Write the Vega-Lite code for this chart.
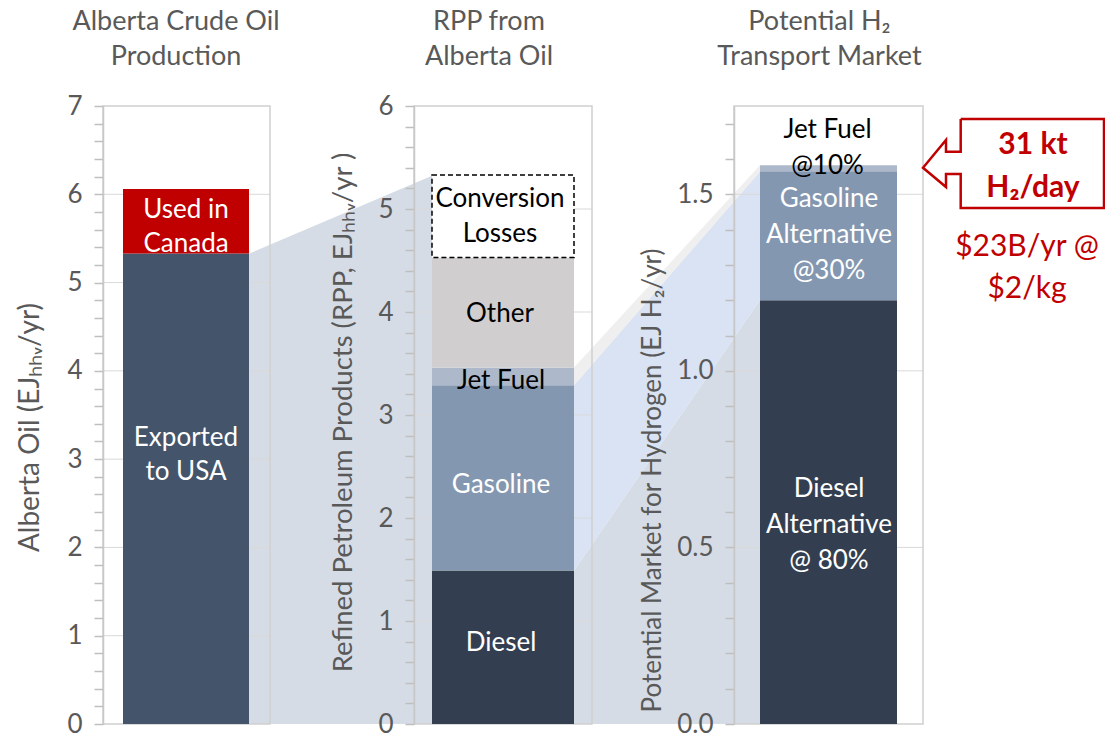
{
  "$schema": "https://vega.github.io/schema/vega-lite/v6.json",
  "width": 820,
  "height": 618,
  "autosize": {"type": "none"},
  "padding": {"left": 103, "top": 106, "right": 182, "bottom": 13},
  "background": "white",
  "config": {"view": {"stroke": null}, "font": "Lato", "text": {"font": "Lato"}},
  "datasets": {
    "conn": [
      {"band": "cA", "x": 14.6, "top": 0.761, "bot": 0},
      {"band": "cA", "x": 32.9, "top": 0.887, "bot": 0},
      {"band": "cD", "x": 47.1, "top": 0.248, "bot": 0},
      {"band": "cD", "x": 65.7, "top": 0.686, "bot": 0},
      {"band": "cG", "x": 47.1, "top": 0.548, "bot": 0.248},
      {"band": "cG", "x": 65.7, "top": 0.894, "bot": 0.686},
      {"band": "cJ", "x": 47.1, "top": 0.577, "bot": 0.548},
      {"band": "cJ", "x": 65.7, "top": 0.904, "bot": 0.894}
    ],
    "frames": [
      {"x0": 0, "x1": 16.7},
      {"x0": 31.1, "x1": 48.9},
      {"x0": 63.1, "x1": 82}
    ],
    "p1": [
      {"seg": "Exported to USA", "x0": 2.0, "x1": 14.6, "y0": 0, "y1": 5.33},
      {"seg": "Used in Canada", "x0": 2.0, "x1": 14.6, "y0": 5.33, "y1": 6.06}
    ],
    "p2": [
      {"seg": "Diesel", "x0": 32.9, "x1": 47.1, "y0": 0, "y1": 1.49},
      {"seg": "Gasoline", "x0": 32.9, "x1": 47.1, "y0": 1.49, "y1": 3.29},
      {"seg": "Jet Fuel", "x0": 32.9, "x1": 47.1, "y0": 3.29, "y1": 3.46},
      {"seg": "Other", "x0": 32.9, "x1": 47.1, "y0": 3.46, "y1": 4.53}
    ],
    "p2loss": [
      {"seg": "Conversion Losses", "x0": 32.9, "x1": 47.1, "y0": 4.53, "y1": 5.33}
    ],
    "p3": [
      {"seg": "Diesel Alternative", "x0": 65.7, "x1": 79.4, "y0": 0, "y1": 1.2},
      {"seg": "Gasoline Alternative", "x0": 65.7, "x1": 79.4, "y0": 1.2, "y1": 1.565},
      {"seg": "Jet Fuel @10%", "x0": 65.7, "x1": 79.4, "y0": 1.565, "y1": 1.582}
    ],
    "lab1": [
      {"t": "Used in\nCanada", "on": "Used in Canada", "x": 8.3, "y": 5.84},
      {"t": "Exported\nto USA", "on": "Exported to USA", "x": 8.3, "y": 3.26}
    ],
    "lab2": [
      {"t": "Conversion\nLosses", "on": "Conversion Losses", "x": 39.7, "y": 5.12},
      {"t": "Other", "on": "Other", "x": 39.7, "y": 4.0},
      {"t": "Jet Fuel", "on": "Jet Fuel", "x": 39.8, "y": 3.35},
      {"t": "Gasoline", "on": "Gasoline", "x": 39.8, "y": 2.34},
      {"t": "Diesel", "on": "Diesel", "x": 39.8, "y": 0.81}
    ],
    "lab3": [
      {"t": "Jet Fuel\n@10%", "on": "Jet Fuel @10%", "x": 72.45, "y": 1.687},
      {"t": "Gasoline\nAlternative\n@30%", "on": "Gasoline Alternative", "x": 72.6, "y": 1.492},
      {"t": "Diesel\nAlternative\n@ 80%", "on": "Diesel Alternative", "x": 72.6, "y": 0.671}
    ],
    "titles": [
      {"t": "Alberta Crude Oil\nProduction", "x": 7.3, "y": 1.139},
      {"t": "RPP from\nAlberta Oil", "x": 38.6, "y": 1.139},
      {"t": "Potential H₂\nTransport Market", "x": 71.65, "y": 1.139}
    ],
    "callout": [
      {"i": 0, "x": 85.77, "y": 0.979},
      {"i": 1, "x": 100.1, "y": 0.979},
      {"i": 2, "x": 100.1, "y": 0.835},
      {"i": 3, "x": 85.77, "y": 0.835},
      {"i": 4, "x": 85.77, "y": 0.890},
      {"i": 5, "x": 84.3, "y": 0.890},
      {"i": 6, "x": 84.3, "y": 0.869},
      {"i": 7, "x": 82.0, "y": 0.9},
      {"i": 8, "x": 84.3, "y": 0.945},
      {"i": 9, "x": 84.3, "y": 0.926},
      {"i": 10, "x": 85.77, "y": 0.926},
      {"i": 11, "x": 85.77, "y": 0.979}
    ],
    "calloutBold": [
      {"t": "31 kt\nH₂/day", "x": 93.0, "y": 0.940}
    ],
    "calloutNote": [
      {"t": "$23B/yr @\n$2/kg", "x": 92.4, "y": 0.775}
    ]
  },
  "resolve": {"scale": {"y": "independent"}, "axis": {"y": "independent"}},
  "layer": [
    {
      "data": {"name": "conn"},
      "mark": {"type": "area"},
      "encoding": {
        "x": {"field": "x", "type": "quantitative", "scale": {"domain": [0, 82], "nice": false, "zero": false}, "axis": null},
        "y": {"field": "top", "type": "quantitative", "stack": null, "scale": {"domain": [0, 1], "nice": false}, "axis": null},
        "y2": {"field": "bot"},
        "color": {"field": "band", "type": "nominal", "legend": null, "scale": {"domain": ["Exported to USA","Used in Canada","Diesel","Gasoline","Jet Fuel","Other","Conversion Losses","Diesel Alternative","Gasoline Alternative","Jet Fuel @10%","cA","cD","cG","cJ"], "range": ["#44546a","#c00000","#333f50","#8497b0","#adb9ca","#d0cece","#ffffff","#333f50","#8497b0","#adb9ca","#d6dce5","#d6dce5","#dae3f3","#efefef"]}}
      }
    },
    {
      "data": {"values": [{"v": 1}, {"v": 2}, {"v": 3}, {"v": 4}, {"v": 5}, {"v": 6}]},
      "mark": {"type": "rule", "color": "#d9d9d9", "strokeWidth": 1},
      "encoding": {
        "x": {"datum": 0, "type": "quantitative", "scale": {"domain": [0, 82], "nice": false, "zero": false}, "axis": null},
        "x2": {"datum": 16.7},
        "y": {"field": "v", "type": "quantitative", "scale": {"domain": [0, 7], "nice": false}, "axis": null}
      }
    },
    {
      "data": {"values": [{"v": 1}, {"v": 2}, {"v": 3}, {"v": 4}, {"v": 5}]},
      "mark": {"type": "rule", "color": "#d9d9d9", "strokeWidth": 1},
      "encoding": {
        "x": {"datum": 31.1, "type": "quantitative", "scale": {"domain": [0, 82], "nice": false, "zero": false}, "axis": null},
        "x2": {"datum": 48.9},
        "y": {"field": "v", "type": "quantitative", "scale": {"domain": [0, 6], "nice": false}, "axis": null}
      }
    },
    {
      "data": {"values": [{"v": 0.5}, {"v": 1.0}, {"v": 1.5}]},
      "mark": {"type": "rule", "color": "#d9d9d9", "strokeWidth": 1},
      "encoding": {
        "x": {"datum": 63.1, "type": "quantitative", "scale": {"domain": [0, 82], "nice": false, "zero": false}, "axis": null},
        "x2": {"datum": 82},
        "y": {"field": "v", "type": "quantitative", "scale": {"domain": [0, 1.75], "nice": false}, "axis": null}
      }
    },
    {
      "data": {"name": "frames"},
      "mark": {"type": "rect", "fill": "transparent", "stroke": "#d0d0d0", "strokeWidth": 1.5},
      "encoding": {
        "x": {"field": "x0", "type": "quantitative", "scale": {"domain": [0, 82], "nice": false, "zero": false}, "axis": null},
        "x2": {"field": "x1"},
        "y": {"datum": 0, "type": "quantitative", "scale": {"domain": [0, 1], "nice": false}, "axis": null},
        "y2": {"datum": 1}
      }
    },
    {
      "data": {"name": "p1"},
      "mark": {"type": "rect"},
      "encoding": {
        "x": {"field": "x0", "type": "quantitative", "scale": {"domain": [0, 82], "nice": false, "zero": false}, "axis": null},
        "x2": {"field": "x1"},
        "y": {"field": "y0", "type": "quantitative", "stack": null, "scale": {"domain": [0, 7], "nice": false},
          "axis": {"orient": "left", "offset": 0, "zindex": 1, "values": [0,0.2,0.4,0.6,0.8,1,1.2,1.4,1.6,1.8,2,2.2,2.4,2.6,2.8,3,3.2,3.4,3.6,3.8,4,4.2,4.4,4.6,4.8,5,5.2,5.4,5.6,5.8,6,6.2,6.4,6.6,6.8,7],
            "labelExpr": "datum.value % 1 === 0 ? format(datum.value, 'd') : ''", "labelOverlap": false, "labelFlush": false, "grid": false,
            "domainColor": "#c8c8c8", "domainWidth": 1.5, "tickColor": "#bfbfbf", "tickWidth": 1.5, "tickSize": 9,
            "labelFont": "Lato", "labelFontSize": 26, "labelColor": "#595959", "labelPadding": 12,
            "title": "Alberta  Oil (EJₕₕᵥ/yr)", "titleFont": "Lato", "titleFontSize": 28, "titleFontWeight": "normal", "titleColor": "#595959",
            "titleAngle": -90, "titleX": -73, "titleY": 321, "titleAlign": "center", "titleBaseline": "middle"}},
        "y2": {"field": "y1"},
        "color": {"field": "seg", "type": "nominal", "legend": null, "scale": {"domain": ["Exported to USA","Used in Canada","Diesel","Gasoline","Jet Fuel","Other","Conversion Losses","Diesel Alternative","Gasoline Alternative","Jet Fuel @10%","cA","cD","cG","cJ"], "range": ["#44546a","#c00000","#333f50","#8497b0","#adb9ca","#d0cece","#ffffff","#333f50","#8497b0","#adb9ca","#d6dce5","#d6dce5","#dae3f3","#efefef"]}}
      }
    },
    {
      "data": {"name": "p2"},
      "mark": {"type": "rect"},
      "encoding": {
        "x": {"field": "x0", "type": "quantitative", "scale": {"domain": [0, 82], "nice": false, "zero": false}, "axis": null},
        "x2": {"field": "x1"},
        "y": {"field": "y0", "type": "quantitative", "stack": null, "scale": {"domain": [0, 6], "nice": false},
          "axis": {"orient": "left", "offset": -311, "zindex": 1, "values": [0,0.2,0.4,0.6,0.8,1,1.2,1.4,1.6,1.8,2,2.2,2.4,2.6,2.8,3,3.2,3.4,3.6,3.8,4,4.2,4.4,4.6,4.8,5,5.2,5.4,5.6,5.8,6],
            "labelExpr": "datum.value % 1 === 0 ? format(datum.value, 'd') : ''", "labelOverlap": false, "labelFlush": false, "grid": false,
            "domainColor": "#c8c8c8", "domainWidth": 1.5, "tickColor": "#bfbfbf", "tickWidth": 1.5, "tickSize": 9,
            "labelFont": "Lato", "labelFontSize": 26, "labelColor": "#595959", "labelPadding": 12,
            "title": "Refined Petroleum Products (RPP, EJₕₕᵥ/yr )", "titleFont": "Lato", "titleFontSize": 27.5, "titleFontWeight": "normal", "titleColor": "#595959",
            "titleAngle": -90, "titleX": -71, "titleY": 306, "titleAlign": "center", "titleBaseline": "middle"}},
        "y2": {"field": "y1"},
        "color": {"field": "seg", "type": "nominal", "legend": null, "scale": {"domain": ["Exported to USA","Used in Canada","Diesel","Gasoline","Jet Fuel","Other","Conversion Losses","Diesel Alternative","Gasoline Alternative","Jet Fuel @10%","cA","cD","cG","cJ"], "range": ["#44546a","#c00000","#333f50","#8497b0","#adb9ca","#d0cece","#ffffff","#333f50","#8497b0","#adb9ca","#d6dce5","#d6dce5","#dae3f3","#efefef"]}}
      }
    },
    {
      "data": {"name": "p2loss"},
      "mark": {"type": "rect", "stroke": "#000000", "strokeWidth": 1.5, "strokeDash": [5, 3]},
      "encoding": {
        "x": {"field": "x0", "type": "quantitative", "scale": {"domain": [0, 82], "nice": false, "zero": false}, "axis": null},
        "x2": {"field": "x1"},
        "y": {"field": "y0", "type": "quantitative", "stack": null, "scale": {"domain": [0, 6], "nice": false}, "axis": null},
        "y2": {"field": "y1"},
        "color": {"field": "seg", "type": "nominal", "legend": null, "scale": {"domain": ["Exported to USA","Used in Canada","Diesel","Gasoline","Jet Fuel","Other","Conversion Losses","Diesel Alternative","Gasoline Alternative","Jet Fuel @10%","cA","cD","cG","cJ"], "range": ["#44546a","#c00000","#333f50","#8497b0","#adb9ca","#d0cece","#ffffff","#333f50","#8497b0","#adb9ca","#d6dce5","#d6dce5","#dae3f3","#efefef"]}}
      }
    },
    {
      "data": {"name": "p3"},
      "mark": {"type": "rect"},
      "encoding": {
        "x": {"field": "x0", "type": "quantitative", "scale": {"domain": [0, 82], "nice": false, "zero": false}, "axis": null},
        "x2": {"field": "x1"},
        "y": {"field": "y0", "type": "quantitative", "stack": null, "scale": {"domain": [0, 1.75], "nice": false},
          "axis": {"orient": "left", "offset": -631, "zindex": 1, "values": [0,0.1,0.2,0.3,0.4,0.5,0.6,0.7,0.8,0.9,1,1.1,1.2,1.3,1.4,1.5,1.6,1.7],
            "labelExpr": "round(datum.value * 10) % 5 === 0 ? format(datum.value, '.1f') : ''", "labelOverlap": false, "labelFlush": false, "grid": false,
            "domainColor": "#c8c8c8", "domainWidth": 1.5, "tickColor": "#bfbfbf", "tickWidth": 1.5, "tickSize": 9,
            "labelFont": "Lato", "labelFontSize": 26, "labelColor": "#595959", "labelPadding": 12,
            "title": "Potential Market for Hydrogen (EJ H₂/yr)", "titleFont": "Lato", "titleFontSize": 26, "titleFontWeight": "normal", "titleColor": "#595959",
            "titleAngle": -90, "titleX": -82, "titleY": 374, "titleAlign": "center", "titleBaseline": "middle"}},
        "y2": {"field": "y1"},
        "color": {"field": "seg", "type": "nominal", "legend": null, "scale": {"domain": ["Exported to USA","Used in Canada","Diesel","Gasoline","Jet Fuel","Other","Conversion Losses","Diesel Alternative","Gasoline Alternative","Jet Fuel @10%","cA","cD","cG","cJ"], "range": ["#44546a","#c00000","#333f50","#8497b0","#adb9ca","#d0cece","#ffffff","#333f50","#8497b0","#adb9ca","#d6dce5","#d6dce5","#dae3f3","#efefef"]}}
      }
    },
    {
      "data": {"name": "lab1"},
      "mark": {"type": "text", "font": "Lato", "fontSize": 26, "align": "center", "baseline": "middle", "dy": 2, "lineBreak": "\n", "lineHeight": 34},
      "encoding": {
        "x": {"field": "x", "type": "quantitative", "scale": {"domain": [0, 82], "nice": false, "zero": false}, "axis": null},
        "y": {"field": "y", "type": "quantitative", "scale": {"domain": [0, 7], "nice": false}, "axis": null},
        "text": {"field": "t"},
        "color": {"condition": {"test": "indexof(['Exported to USA','Used in Canada','Gasoline','Diesel','Gasoline Alternative','Diesel Alternative'], datum.on) >= 0", "value": "#ffffff"}, "value": "#000000"}
      }
    },
    {
      "data": {"name": "lab2"},
      "mark": {"type": "text", "font": "Lato", "fontSize": 26, "align": "center", "baseline": "middle", "dy": 2, "lineBreak": "\n", "lineHeight": 35},
      "encoding": {
        "x": {"field": "x", "type": "quantitative", "scale": {"domain": [0, 82], "nice": false, "zero": false}, "axis": null},
        "y": {"field": "y", "type": "quantitative", "scale": {"domain": [0, 6], "nice": false}, "axis": null},
        "text": {"field": "t"},
        "color": {"condition": {"test": "indexof(['Exported to USA','Used in Canada','Gasoline','Diesel','Gasoline Alternative','Diesel Alternative'], datum.on) >= 0", "value": "#ffffff"}, "value": "#000000"}
      }
    },
    {
      "data": {"name": "lab3"},
      "mark": {"type": "text", "font": "Lato", "fontSize": 26, "align": "center", "baseline": "middle", "dy": 2, "lineBreak": "\n", "lineHeight": 36},
      "encoding": {
        "x": {"field": "x", "type": "quantitative", "scale": {"domain": [0, 82], "nice": false, "zero": false}, "axis": null},
        "y": {"field": "y", "type": "quantitative", "scale": {"domain": [0, 1.75], "nice": false}, "axis": null},
        "text": {"field": "t"},
        "color": {"condition": {"test": "indexof(['Exported to USA','Used in Canada','Gasoline','Diesel','Gasoline Alternative','Diesel Alternative'], datum.on) >= 0", "value": "#ffffff"}, "value": "#000000"}
      }
    },
    {
      "data": {"name": "titles"},
      "mark": {"type": "text", "font": "Lato", "fontSize": 27, "color": "#595959", "align": "center", "baseline": "middle", "dy": 2, "lineBreak": "\n", "lineHeight": 35},
      "encoding": {
        "x": {"field": "x", "type": "quantitative", "scale": {"domain": [0, 82], "nice": false, "zero": false}, "axis": null},
        "y": {"field": "y", "type": "quantitative", "scale": {"domain": [0, 1], "nice": false}, "axis": null},
        "text": {"field": "t"}
      }
    },
    {
      "data": {"name": "callout"},
      "mark": {"type": "line", "color": "#c00000", "strokeWidth": 2.5, "strokeJoin": "miter"},
      "encoding": {
        "x": {"field": "x", "type": "quantitative", "scale": {"domain": [0, 82], "nice": false, "zero": false}, "axis": null},
        "y": {"field": "y", "type": "quantitative", "scale": {"domain": [0, 1], "nice": false}, "axis": null},
        "order": {"field": "i", "type": "quantitative"}
      }
    },
    {
      "data": {"name": "calloutBold"},
      "mark": {"type": "text", "font": "Lato", "fontSize": 30, "fontWeight": "bold", "color": "#c00000", "align": "center", "baseline": "middle", "dy": 2, "lineBreak": "\n", "lineHeight": 43},
      "encoding": {
        "x": {"field": "x", "type": "quantitative", "scale": {"domain": [0, 82], "nice": false, "zero": false}, "axis": null},
        "y": {"field": "y", "type": "quantitative", "scale": {"domain": [0, 1], "nice": false}, "axis": null},
        "text": {"field": "t"}
      }
    },
    {
      "data": {"name": "calloutNote"},
      "mark": {"type": "text", "font": "Lato", "fontSize": 30, "color": "#c00000", "align": "center", "baseline": "middle", "dy": 2, "lineBreak": "\n", "lineHeight": 42},
      "encoding": {
        "x": {"field": "x", "type": "quantitative", "scale": {"domain": [0, 82], "nice": false, "zero": false}, "axis": null},
        "y": {"field": "y", "type": "quantitative", "scale": {"domain": [0, 1], "nice": false}, "axis": null},
        "text": {"field": "t"}
      }
    }
  ]
}
